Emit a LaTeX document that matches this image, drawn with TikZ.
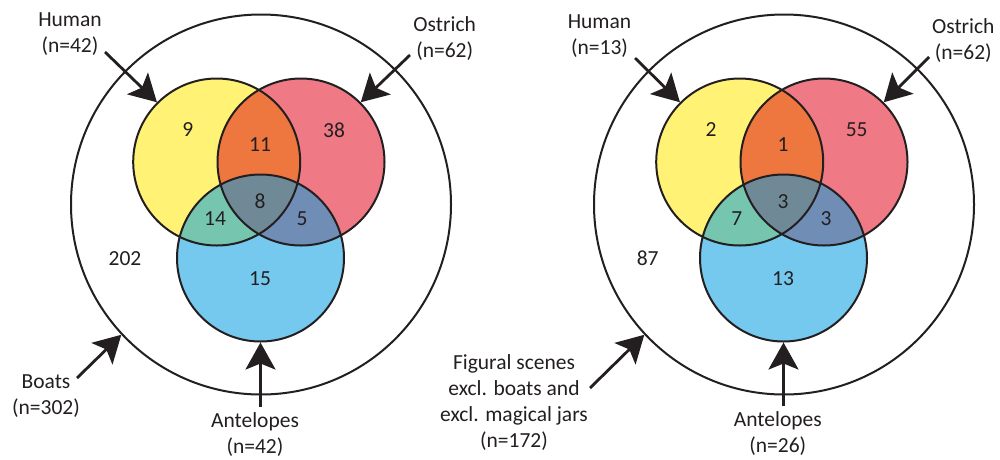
\documentclass[tikz,border=0pt]{standalone}
\usepackage{fontspec}
\setmainfont{Carlito}
\usetikzlibrary{arrows.meta}

\definecolor{ink}{HTML}{231F20}
\definecolor{cyel}{HTML}{FFF275}
\definecolor{cred}{HTML}{EF7985}
\definecolor{cblu}{HTML}{76C9EE}
\definecolor{cyr}{HTML}{EE763F}
\definecolor{cyb}{HTML}{76C6AF}
\definecolor{crb}{HTML}{6F8DB5}
\definecolor{cmid}{HTML}{6F8A96}

% coloured regions of one three-set diagram (local coordinates)
\newcommand\vennfills{%
  \fill[cyel] (216.7,162) circle[radius=83.5pt];
  \fill[cred] (301,162) circle[radius=83.5pt];
  \fill[cblu] (260.5,258) circle[radius=83.5pt];
  \begin{scope}
    \clip (216.7,162) circle[radius=83.5pt];
    \fill[cyr] (301,162) circle[radius=83.5pt];
    \fill[cyb] (260.5,258) circle[radius=83.5pt];
  \end{scope}
  \begin{scope}
    \clip (301,162) circle[radius=83.5pt];
    \fill[crb] (260.5,258) circle[radius=83.5pt];
  \end{scope}
  \begin{scope}
    \clip (216.7,162) circle[radius=83.5pt];
    \clip (301,162) circle[radius=83.5pt];
    \fill[cmid] (260.5,258) circle[radius=83.5pt];
  \end{scope}%
}

\begin{document}
\begin{tikzpicture}[x=1pt, y=-1pt,
  font=\fontsize{21.5}{26}\selectfont, text=ink,
  ring/.style={circle, draw=ink, line width=2pt, inner sep=0pt, minimum size=#1},
  pointer/.style={draw=ink, line width=2.8pt,
    -{Stealth[length=27pt, width=30pt, inset=6pt]}},
  lbl/.style={anchor=north, inner sep=0pt, align=center},
  num/.style={inner sep=0pt}]
\useasboundingbox (0,0) rectangle (1000,459);

% ---------- left diagram: boats ----------
\begin{scope}
  \vennfills
  \node[ring=380pt] (bigL) at (261,204.5) {};
  \node[ring=167pt] (yelL) at (216.7,162) {};
  \node[ring=167pt] (redL) at (301,162) {};
  \node[ring=167pt] (bluL) at (260.5,258) {};

  \node[num] (l9)   at (187.7,130) {9};
  \node[num] (l11)  at (260,144.5) {11};
  \node[num] (l38)  at (334,130) {38};
  \node[num] (l8)   at (260,201.7) {8};
  \node[num] (l14)  at (215,218.3) {14};
  \node[num] (l5)   at (302,218.3) {5};
  \node[num] (l15)  at (260,278.3) {15};
  \node[num] (l202) at (125,259) {202};

  \node[lbl] (humL) at (70,7.8) {\strut Human\\\strut(n=42)};
  \node[lbl] (ostL) at (444.7,13.3) {\strut Ostrich\\\strut(n=62)};
  \node[lbl] (boaL) at (46,369.8) {\strut Boats\\\strut(n=302)};
  \node[lbl] (antL) at (255,409.5) {\strut Antelopes\\\strut(n=42)};

  \coordinate (humLt) at (105,52);
  \coordinate (ostLt) at (410,55);
  \coordinate (boaLt) at (77,378);
  \coordinate (antLt) at (260.5,407);
  \draw[pointer] (humLt) -- (yelL.135);
  \draw[pointer] (ostLt) -- (redL.45);
  \draw[pointer] (boaLt) -- (bigL.223);
  \draw[pointer] (antLt) -- (bluL.south);
\end{scope}

% ---------- right diagram: figural scenes ----------
\begin{scope}[xshift=523pt]
  \vennfills
  \node[ring=380pt] (bigR) at (261,204.5) {};
  \node[ring=167pt] (yelR) at (216.7,162) {};
  \node[ring=167pt] (redR) at (301,162) {};
  \node[ring=167pt] (bluR) at (260.5,258) {};

  \node[num] (r2)  at (188,130) {2};
  \node[num] (r1)  at (260,144.5) {1};
  \node[num] (r55) at (333.7,130) {55};
  \node[num] (r3a) at (260,201.7) {3};
  \node[num] (r7)  at (213.7,218.3) {7};
  \node[num] (r3b) at (303,218.3) {3};
  \node[num] (r13) at (260,278.3) {13};
  \node[num] (r87) at (124.7,258) {87};

  \node[lbl] (humR) at (76.5,10.1) {\strut Human\\\strut(n=13)};
  \node[lbl] (ostR) at (440.3,15.1) {\strut Ostrich\\\strut(n=62)};
  \node[lbl] (antR) at (254.8,408.5) {\strut Antelopes\\\strut(n=26)};
  \node[lbl] (figR) at (-9,351.1)
    {\strut Figural scenes\\\strut excl. boats and\\\strut excl. magical jars\\\strut(n=172)};

  \coordinate (humRt) at (112,58);
  \coordinate (ostRt) at (406,57);
  \coordinate (figRt) at (67,388);
  \coordinate (antRt) at (260.5,406);
  \draw[pointer] (humRt) -- (yelR.135);
  \draw[pointer] (ostRt) -- (redR.45);
  \draw[pointer] (figRt) -- (bigR.223);
  \draw[pointer] (antRt) -- (bluR.south);
\end{scope}
\end{tikzpicture}
\end{document}
